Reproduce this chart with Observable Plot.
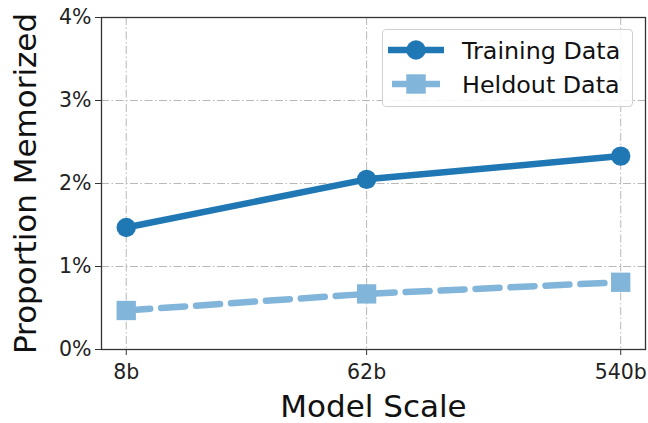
<!DOCTYPE html>
<html>
<head>
<meta charset="utf-8">
<script src="https://cdn.jsdelivr.net/npm/d3@7"></script>
<script src="https://cdn.jsdelivr.net/npm/@observablehq/plot@0.6"></script>
<style>
  html, body { margin: 0; padding: 0; background: white; }
  #wrap { position: relative; width: 648px; height: 423px; font-family: "DejaVu Sans", sans-serif; }
  #legend { position: absolute; left: 382px; top: 29px; width: 251px; height: 78px;
            box-sizing: border-box; border: 1px solid #d0d0d0; border-radius: 4px; background: rgba(255,255,255,0.85); }
  #legend svg { position: absolute; left: -1px; top: -1px; }
</style>
</head>
<body>
<div id="wrap"></div>
<script>
// Data
const modelSizes = [8, 62, 540];
const tickLabels = ["8b", "62b", "540b"];
const trainingData = [1.47, 2.05, 2.33];
const heldoutData = [0.47, 0.67, 0.81];
const yTicks = [0, 1, 2, 3, 4];
const seriesNames = ["Training Data", "Heldout Data"];
const trainColor = "#1f77b4";
const heldColor = "#82b5da";

const trainRows = modelSizes.map((s, i) => ({size: s, value: trainingData[i]}));
const heldRows = modelSizes.map((s, i) => ({size: s, value: heldoutData[i]}));
const tickRows = modelSizes.map((s, i) => ({size: s, label: tickLabels[i]}));

const gridStyle = {stroke: "#b8b8b8", strokeOpacity: 1, strokeWidth: 1, strokeDasharray: "8,2.5,1.5,2.5"};

const chart = Plot.plot({
  width: 648,
  height: 423,
  marginLeft: 101,
  marginRight: 3,
  marginTop: 17,
  marginBottom: 74,
  style: {fontFamily: "DejaVu Sans", background: "white", color: "#222"},
  x: {type: "log", domain: [6.48, 667]},
  y: {domain: [0, 4]},
  marks: [
    Plot.gridX(modelSizes, gridStyle),
    Plot.gridY(yTicks, gridStyle),
    Plot.frame({stroke: "#333", strokeWidth: 1.3}),
    Plot.axisX(modelSizes, {tickFormat: () => "", tickSize: 6, label: null, stroke: "#333"}),
    Plot.text(tickRows, {x: "size", text: "label", frameAnchor: "bottom", dy: 23, fontSize: 20.5, fill: "#222", lineAnchor: "middle"}),
    Plot.axisY(yTicks, {
      tickFormat: d => d + "%",
      fontSize: 20.5, tickSize: 6, tickPadding: 4, label: null, stroke: "#333", fill: "#222"
    }),
    Plot.text(["Model Scale"], {frameAnchor: "bottom", dy: 58, fontSize: 31, fill: "#111", lineAnchor: "middle"}),
    Plot.text(["Proportion Memorized"], {frameAnchor: "left", textAnchor: "middle", dx: -75, rotate: -90, fontSize: 31, fill: "#111", lineAnchor: "middle"}),
    Plot.line(heldRows, {x: "size", y: "value", stroke: heldColor, strokeWidth: 6.5, strokeDasharray: "24,11"}),
    Plot.dot(heldRows, {x: "size", y: "value", symbol: "square", r: 10.9, fill: heldColor, stroke: "none"}),
    Plot.line(trainRows, {x: "size", y: "value", stroke: trainColor, strokeWidth: 6.5}),
    Plot.dot(trainRows, {x: "size", y: "value", r: 9.7, fill: trainColor, stroke: "none"})
  ]
});

const wrap = document.getElementById("wrap");
wrap.appendChild(chart);

// Legend
const legend = document.createElement("div");
legend.id = "legend";
legend.innerHTML = `
<svg width="251" height="78" xmlns="http://www.w3.org/2000/svg" font-family="DejaVu Sans">
  <line x1="6" x2="62" y1="21" y2="21" stroke="${trainColor}" stroke-width="6.5"/>
  <circle cx="34" cy="21" r="9.7" fill="${trainColor}"/>
  <text x="80" y="21" dy="0.36em" font-size="23.8" fill="#111">${seriesNames[0]}</text>
  <line x1="10" x2="28" y1="55" y2="55" stroke="${heldColor}" stroke-width="6.5"/>
  <line x1="40" x2="58" y1="55" y2="55" stroke="${heldColor}" stroke-width="6.5"/>
  <rect x="24.3" y="45.3" width="19.4" height="19.4" fill="${heldColor}"/>
  <text x="80" y="55" dy="0.36em" font-size="23.8" fill="#111">${seriesNames[1]}</text>
</svg>`;
wrap.appendChild(legend);
</script>
</body>
</html>
